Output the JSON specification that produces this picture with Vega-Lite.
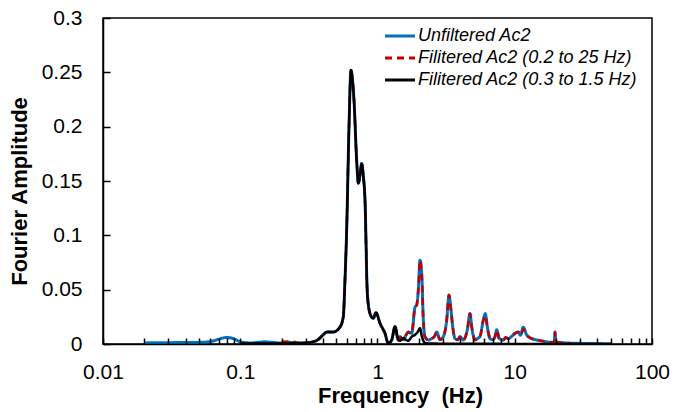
{
  "$schema": "https://vega.github.io/schema/vega-lite/v6.json",
  "autosize": {"type": "none"},
  "width": 549,
  "height": 326,
  "padding": {"left": 103, "top": 18, "right": 35, "bottom": 68},
  "config": {
    "view": {"stroke": "#000", "strokeWidth": 1.5},
    "font": "Liberation Sans"
  },
  "data": {
    "values": [
      {"series": "Unfiltered Ac2", "freq": 0.0202, "amp": 0.001},
      {"series": "Unfiltered Ac2", "freq": 0.026, "amp": 0.0012},
      {"series": "Unfiltered Ac2", "freq": 0.0364, "amp": 0.0013},
      {"series": "Unfiltered Ac2", "freq": 0.0509, "amp": 0.0015},
      {"series": "Unfiltered Ac2", "freq": 0.062, "amp": 0.0025},
      {"series": "Unfiltered Ac2", "freq": 0.07, "amp": 0.0045},
      {"series": "Unfiltered Ac2", "freq": 0.0797, "amp": 0.006},
      {"series": "Unfiltered Ac2", "freq": 0.09, "amp": 0.0048},
      {"series": "Unfiltered Ac2", "freq": 0.1, "amp": 0.002},
      {"series": "Unfiltered Ac2", "freq": 0.118, "amp": 0.001},
      {"series": "Unfiltered Ac2", "freq": 0.135, "amp": 0.0015},
      {"series": "Unfiltered Ac2", "freq": 0.151, "amp": 0.002},
      {"series": "Unfiltered Ac2", "freq": 0.17, "amp": 0.0015},
      {"series": "Unfiltered Ac2", "freq": 0.195, "amp": 0.001},
      {"series": "Unfiltered Ac2", "freq": 0.23, "amp": 0.0015},
      {"series": "Unfiltered Ac2", "freq": 0.272, "amp": 0.001},
      {"series": "Unfiltered Ac2", "freq": 0.306, "amp": 0.0012},
      {"series": "Unfiltered Ac2", "freq": 0.339, "amp": 0.002},
      {"series": "Unfiltered Ac2", "freq": 0.369, "amp": 0.004},
      {"series": "Unfiltered Ac2", "freq": 0.401, "amp": 0.0083},
      {"series": "Unfiltered Ac2", "freq": 0.429, "amp": 0.011},
      {"series": "Unfiltered Ac2", "freq": 0.474, "amp": 0.011},
      {"series": "Unfiltered Ac2", "freq": 0.533, "amp": 0.0156},
      {"series": "Unfiltered Ac2", "freq": 0.563, "amp": 0.025},
      {"series": "Unfiltered Ac2", "freq": 0.58, "amp": 0.06},
      {"series": "Unfiltered Ac2", "freq": 0.597, "amp": 0.108},
      {"series": "Unfiltered Ac2", "freq": 0.62, "amp": 0.2},
      {"series": "Unfiltered Ac2", "freq": 0.641, "amp": 0.252},
      {"series": "Unfiltered Ac2", "freq": 0.655, "amp": 0.245},
      {"series": "Unfiltered Ac2", "freq": 0.674, "amp": 0.2245},
      {"series": "Unfiltered Ac2", "freq": 0.705, "amp": 0.169},
      {"series": "Unfiltered Ac2", "freq": 0.725, "amp": 0.148},
      {"series": "Unfiltered Ac2", "freq": 0.745, "amp": 0.155},
      {"series": "Unfiltered Ac2", "freq": 0.767, "amp": 0.166},
      {"series": "Unfiltered Ac2", "freq": 0.788, "amp": 0.155},
      {"series": "Unfiltered Ac2", "freq": 0.811, "amp": 0.132},
      {"series": "Unfiltered Ac2", "freq": 0.843, "amp": 0.047},
      {"series": "Unfiltered Ac2", "freq": 0.882, "amp": 0.028},
      {"series": "Unfiltered Ac2", "freq": 0.932, "amp": 0.0236},
      {"series": "Unfiltered Ac2", "freq": 0.975, "amp": 0.0288},
      {"series": "Unfiltered Ac2", "freq": 1.043, "amp": 0.019},
      {"series": "Unfiltered Ac2", "freq": 1.134, "amp": 0.0098},
      {"series": "Unfiltered Ac2", "freq": 1.198, "amp": 0.0006},
      {"series": "Unfiltered Ac2", "freq": 1.269, "amp": 0.0037},
      {"series": "Unfiltered Ac2", "freq": 1.341, "amp": 0.016},
      {"series": "Unfiltered Ac2", "freq": 1.418, "amp": 0.0037},
      {"series": "Unfiltered Ac2", "freq": 1.458, "amp": 0.0067},
      {"series": "Unfiltered Ac2", "freq": 1.542, "amp": 0.004},
      {"series": "Unfiltered Ac2", "freq": 1.61, "amp": 0.008},
      {"series": "Unfiltered Ac2", "freq": 1.677, "amp": 0.011},
      {"series": "Unfiltered Ac2", "freq": 1.775, "amp": 0.0098},
      {"series": "Unfiltered Ac2", "freq": 1.877, "amp": 0.034},
      {"series": "Unfiltered Ac2", "freq": 1.931, "amp": 0.036},
      {"series": "Unfiltered Ac2", "freq": 1.984, "amp": 0.05},
      {"series": "Unfiltered Ac2", "freq": 2.04, "amp": 0.077},
      {"series": "Unfiltered Ac2", "freq": 2.099, "amp": 0.065},
      {"series": "Unfiltered Ac2", "freq": 2.157, "amp": 0.022},
      {"series": "Unfiltered Ac2", "freq": 2.219, "amp": 0.0067},
      {"series": "Unfiltered Ac2", "freq": 2.345, "amp": 0.0037},
      {"series": "Unfiltered Ac2", "freq": 2.483, "amp": 0.005},
      {"series": "Unfiltered Ac2", "freq": 2.6, "amp": 0.007},
      {"series": "Unfiltered Ac2", "freq": 2.7, "amp": 0.011},
      {"series": "Unfiltered Ac2", "freq": 2.854, "amp": 0.004},
      {"series": "Unfiltered Ac2", "freq": 3.017, "amp": 0.0067},
      {"series": "Unfiltered Ac2", "freq": 3.193, "amp": 0.022},
      {"series": "Unfiltered Ac2", "freq": 3.318, "amp": 0.045},
      {"series": "Unfiltered Ac2", "freq": 3.414, "amp": 0.034},
      {"series": "Unfiltered Ac2", "freq": 3.531, "amp": 0.016},
      {"series": "Unfiltered Ac2", "freq": 3.67, "amp": 0.005},
      {"series": "Unfiltered Ac2", "freq": 3.85, "amp": 0.004},
      {"series": "Unfiltered Ac2", "freq": 3.991, "amp": 0.0067},
      {"series": "Unfiltered Ac2", "freq": 4.218, "amp": 0.0037},
      {"series": "Unfiltered Ac2", "freq": 4.511, "amp": 0.013},
      {"series": "Unfiltered Ac2", "freq": 4.721, "amp": 0.028},
      {"series": "Unfiltered Ac2", "freq": 4.857, "amp": 0.016},
      {"series": "Unfiltered Ac2", "freq": 5.132, "amp": 0.0037},
      {"series": "Unfiltered Ac2", "freq": 5.35, "amp": 0.005},
      {"series": "Unfiltered Ac2", "freq": 5.582, "amp": 0.007},
      {"series": "Unfiltered Ac2", "freq": 5.901, "amp": 0.022},
      {"series": "Unfiltered Ac2", "freq": 6.101, "amp": 0.028},
      {"series": "Unfiltered Ac2", "freq": 6.31, "amp": 0.016},
      {"series": "Unfiltered Ac2", "freq": 6.602, "amp": 0.005},
      {"series": "Unfiltered Ac2", "freq": 6.9, "amp": 0.004},
      {"series": "Unfiltered Ac2", "freq": 7.18, "amp": 0.0067},
      {"series": "Unfiltered Ac2", "freq": 7.388, "amp": 0.013},
      {"series": "Unfiltered Ac2", "freq": 7.717, "amp": 0.005},
      {"series": "Unfiltered Ac2", "freq": 8.254, "amp": 0.0037},
      {"series": "Unfiltered Ac2", "freq": 8.6, "amp": 0.006},
      {"series": "Unfiltered Ac2", "freq": 8.974, "amp": 0.005},
      {"series": "Unfiltered Ac2", "freq": 9.5, "amp": 0.007},
      {"series": "Unfiltered Ac2", "freq": 10.04, "amp": 0.0098},
      {"series": "Unfiltered Ac2", "freq": 10.61, "amp": 0.011},
      {"series": "Unfiltered Ac2", "freq": 11.0, "amp": 0.008},
      {"series": "Unfiltered Ac2", "freq": 11.54, "amp": 0.0155},
      {"series": "Unfiltered Ac2", "freq": 12.22, "amp": 0.0083},
      {"series": "Unfiltered Ac2", "freq": 12.8, "amp": 0.006},
      {"series": "Unfiltered Ac2", "freq": 13.29, "amp": 0.005},
      {"series": "Unfiltered Ac2", "freq": 14.45, "amp": 0.0037},
      {"series": "Unfiltered Ac2", "freq": 15.5, "amp": 0.003},
      {"series": "Unfiltered Ac2", "freq": 17.09, "amp": 0.002},
      {"series": "Unfiltered Ac2", "freq": 18.5, "amp": 0.0015},
      {"series": "Unfiltered Ac2", "freq": 19.4, "amp": 0.002},
      {"series": "Unfiltered Ac2", "freq": 19.65, "amp": 0.011},
      {"series": "Unfiltered Ac2", "freq": 19.9, "amp": 0.002},
      {"series": "Unfiltered Ac2", "freq": 21, "amp": 0.0015},
      {"series": "Unfiltered Ac2", "freq": 23.89, "amp": 0.001},
      {"series": "Unfiltered Ac2", "freq": 26, "amp": 0.0007},
      {"series": "Unfiltered Ac2", "freq": 29.88, "amp": 0.0006},
      {"series": "Unfiltered Ac2", "freq": 35, "amp": 0.0004},
      {"series": "Unfiltered Ac2", "freq": 40, "amp": 0.0005},
      {"series": "Unfiltered Ac2", "freq": 45, "amp": 0.0003},
      {"series": "Unfiltered Ac2", "freq": 51, "amp": 0.0002},

      {"series": "Filitered Ac2 (0.2 to 25 Hz)", "freq": 0.2, "amp": 0.002},
      {"series": "Filitered Ac2 (0.2 to 25 Hz)", "freq": 0.23, "amp": 0.0022},
      {"series": "Filitered Ac2 (0.2 to 25 Hz)", "freq": 0.26, "amp": 0.0015},
      {"series": "Filitered Ac2 (0.2 to 25 Hz)", "freq": 0.272, "amp": 0.001},
      {"series": "Filitered Ac2 (0.2 to 25 Hz)", "freq": 0.306, "amp": 0.0012},
      {"series": "Filitered Ac2 (0.2 to 25 Hz)", "freq": 0.339, "amp": 0.002},
      {"series": "Filitered Ac2 (0.2 to 25 Hz)", "freq": 0.369, "amp": 0.004},
      {"series": "Filitered Ac2 (0.2 to 25 Hz)", "freq": 0.401, "amp": 0.0083},
      {"series": "Filitered Ac2 (0.2 to 25 Hz)", "freq": 0.429, "amp": 0.011},
      {"series": "Filitered Ac2 (0.2 to 25 Hz)", "freq": 0.474, "amp": 0.011},
      {"series": "Filitered Ac2 (0.2 to 25 Hz)", "freq": 0.533, "amp": 0.0156},
      {"series": "Filitered Ac2 (0.2 to 25 Hz)", "freq": 0.563, "amp": 0.025},
      {"series": "Filitered Ac2 (0.2 to 25 Hz)", "freq": 0.58, "amp": 0.06},
      {"series": "Filitered Ac2 (0.2 to 25 Hz)", "freq": 0.597, "amp": 0.108},
      {"series": "Filitered Ac2 (0.2 to 25 Hz)", "freq": 0.62, "amp": 0.2},
      {"series": "Filitered Ac2 (0.2 to 25 Hz)", "freq": 0.641, "amp": 0.252},
      {"series": "Filitered Ac2 (0.2 to 25 Hz)", "freq": 0.655, "amp": 0.245},
      {"series": "Filitered Ac2 (0.2 to 25 Hz)", "freq": 0.674, "amp": 0.2245},
      {"series": "Filitered Ac2 (0.2 to 25 Hz)", "freq": 0.705, "amp": 0.169},
      {"series": "Filitered Ac2 (0.2 to 25 Hz)", "freq": 0.725, "amp": 0.148},
      {"series": "Filitered Ac2 (0.2 to 25 Hz)", "freq": 0.745, "amp": 0.155},
      {"series": "Filitered Ac2 (0.2 to 25 Hz)", "freq": 0.767, "amp": 0.166},
      {"series": "Filitered Ac2 (0.2 to 25 Hz)", "freq": 0.788, "amp": 0.155},
      {"series": "Filitered Ac2 (0.2 to 25 Hz)", "freq": 0.811, "amp": 0.132},
      {"series": "Filitered Ac2 (0.2 to 25 Hz)", "freq": 0.843, "amp": 0.047},
      {"series": "Filitered Ac2 (0.2 to 25 Hz)", "freq": 0.882, "amp": 0.028},
      {"series": "Filitered Ac2 (0.2 to 25 Hz)", "freq": 0.932, "amp": 0.0236},
      {"series": "Filitered Ac2 (0.2 to 25 Hz)", "freq": 0.975, "amp": 0.0288},
      {"series": "Filitered Ac2 (0.2 to 25 Hz)", "freq": 1.043, "amp": 0.019},
      {"series": "Filitered Ac2 (0.2 to 25 Hz)", "freq": 1.134, "amp": 0.0098},
      {"series": "Filitered Ac2 (0.2 to 25 Hz)", "freq": 1.198, "amp": 0.0006},
      {"series": "Filitered Ac2 (0.2 to 25 Hz)", "freq": 1.269, "amp": 0.0037},
      {"series": "Filitered Ac2 (0.2 to 25 Hz)", "freq": 1.341, "amp": 0.016},
      {"series": "Filitered Ac2 (0.2 to 25 Hz)", "freq": 1.418, "amp": 0.0037},
      {"series": "Filitered Ac2 (0.2 to 25 Hz)", "freq": 1.458, "amp": 0.0067},
      {"series": "Filitered Ac2 (0.2 to 25 Hz)", "freq": 1.542, "amp": 0.004},
      {"series": "Filitered Ac2 (0.2 to 25 Hz)", "freq": 1.61, "amp": 0.008},
      {"series": "Filitered Ac2 (0.2 to 25 Hz)", "freq": 1.677, "amp": 0.011},
      {"series": "Filitered Ac2 (0.2 to 25 Hz)", "freq": 1.775, "amp": 0.0098},
      {"series": "Filitered Ac2 (0.2 to 25 Hz)", "freq": 1.877, "amp": 0.034},
      {"series": "Filitered Ac2 (0.2 to 25 Hz)", "freq": 1.931, "amp": 0.036},
      {"series": "Filitered Ac2 (0.2 to 25 Hz)", "freq": 1.984, "amp": 0.05},
      {"series": "Filitered Ac2 (0.2 to 25 Hz)", "freq": 2.04, "amp": 0.077},
      {"series": "Filitered Ac2 (0.2 to 25 Hz)", "freq": 2.099, "amp": 0.065},
      {"series": "Filitered Ac2 (0.2 to 25 Hz)", "freq": 2.157, "amp": 0.022},
      {"series": "Filitered Ac2 (0.2 to 25 Hz)", "freq": 2.219, "amp": 0.0067},
      {"series": "Filitered Ac2 (0.2 to 25 Hz)", "freq": 2.345, "amp": 0.0037},
      {"series": "Filitered Ac2 (0.2 to 25 Hz)", "freq": 2.483, "amp": 0.005},
      {"series": "Filitered Ac2 (0.2 to 25 Hz)", "freq": 2.6, "amp": 0.007},
      {"series": "Filitered Ac2 (0.2 to 25 Hz)", "freq": 2.7, "amp": 0.011},
      {"series": "Filitered Ac2 (0.2 to 25 Hz)", "freq": 2.854, "amp": 0.004},
      {"series": "Filitered Ac2 (0.2 to 25 Hz)", "freq": 3.017, "amp": 0.0067},
      {"series": "Filitered Ac2 (0.2 to 25 Hz)", "freq": 3.193, "amp": 0.022},
      {"series": "Filitered Ac2 (0.2 to 25 Hz)", "freq": 3.318, "amp": 0.045},
      {"series": "Filitered Ac2 (0.2 to 25 Hz)", "freq": 3.414, "amp": 0.034},
      {"series": "Filitered Ac2 (0.2 to 25 Hz)", "freq": 3.531, "amp": 0.016},
      {"series": "Filitered Ac2 (0.2 to 25 Hz)", "freq": 3.67, "amp": 0.005},
      {"series": "Filitered Ac2 (0.2 to 25 Hz)", "freq": 3.85, "amp": 0.004},
      {"series": "Filitered Ac2 (0.2 to 25 Hz)", "freq": 3.991, "amp": 0.0067},
      {"series": "Filitered Ac2 (0.2 to 25 Hz)", "freq": 4.218, "amp": 0.0037},
      {"series": "Filitered Ac2 (0.2 to 25 Hz)", "freq": 4.511, "amp": 0.013},
      {"series": "Filitered Ac2 (0.2 to 25 Hz)", "freq": 4.721, "amp": 0.028},
      {"series": "Filitered Ac2 (0.2 to 25 Hz)", "freq": 4.857, "amp": 0.016},
      {"series": "Filitered Ac2 (0.2 to 25 Hz)", "freq": 5.132, "amp": 0.0037},
      {"series": "Filitered Ac2 (0.2 to 25 Hz)", "freq": 5.35, "amp": 0.005},
      {"series": "Filitered Ac2 (0.2 to 25 Hz)", "freq": 5.582, "amp": 0.007},
      {"series": "Filitered Ac2 (0.2 to 25 Hz)", "freq": 5.901, "amp": 0.022},
      {"series": "Filitered Ac2 (0.2 to 25 Hz)", "freq": 6.101, "amp": 0.026},
      {"series": "Filitered Ac2 (0.2 to 25 Hz)", "freq": 6.31, "amp": 0.016},
      {"series": "Filitered Ac2 (0.2 to 25 Hz)", "freq": 6.602, "amp": 0.005},
      {"series": "Filitered Ac2 (0.2 to 25 Hz)", "freq": 6.9, "amp": 0.004},
      {"series": "Filitered Ac2 (0.2 to 25 Hz)", "freq": 7.18, "amp": 0.0067},
      {"series": "Filitered Ac2 (0.2 to 25 Hz)", "freq": 7.388, "amp": 0.013},
      {"series": "Filitered Ac2 (0.2 to 25 Hz)", "freq": 7.717, "amp": 0.005},
      {"series": "Filitered Ac2 (0.2 to 25 Hz)", "freq": 8.254, "amp": 0.0037},
      {"series": "Filitered Ac2 (0.2 to 25 Hz)", "freq": 8.6, "amp": 0.006},
      {"series": "Filitered Ac2 (0.2 to 25 Hz)", "freq": 8.974, "amp": 0.005},
      {"series": "Filitered Ac2 (0.2 to 25 Hz)", "freq": 9.5, "amp": 0.007},
      {"series": "Filitered Ac2 (0.2 to 25 Hz)", "freq": 10.04, "amp": 0.0098},
      {"series": "Filitered Ac2 (0.2 to 25 Hz)", "freq": 10.61, "amp": 0.011},
      {"series": "Filitered Ac2 (0.2 to 25 Hz)", "freq": 11.0, "amp": 0.008},
      {"series": "Filitered Ac2 (0.2 to 25 Hz)", "freq": 11.54, "amp": 0.0135},
      {"series": "Filitered Ac2 (0.2 to 25 Hz)", "freq": 12.22, "amp": 0.0083},
      {"series": "Filitered Ac2 (0.2 to 25 Hz)", "freq": 12.8, "amp": 0.006},
      {"series": "Filitered Ac2 (0.2 to 25 Hz)", "freq": 13.29, "amp": 0.005},
      {"series": "Filitered Ac2 (0.2 to 25 Hz)", "freq": 14.45, "amp": 0.0037},
      {"series": "Filitered Ac2 (0.2 to 25 Hz)", "freq": 15.5, "amp": 0.003},
      {"series": "Filitered Ac2 (0.2 to 25 Hz)", "freq": 17.09, "amp": 0.002},
      {"series": "Filitered Ac2 (0.2 to 25 Hz)", "freq": 18.5, "amp": 0.0015},
      {"series": "Filitered Ac2 (0.2 to 25 Hz)", "freq": 19.4, "amp": 0.002},
      {"series": "Filitered Ac2 (0.2 to 25 Hz)", "freq": 19.65, "amp": 0.011},
      {"series": "Filitered Ac2 (0.2 to 25 Hz)", "freq": 19.9, "amp": 0.002},
      {"series": "Filitered Ac2 (0.2 to 25 Hz)", "freq": 21, "amp": 0.0015},
      {"series": "Filitered Ac2 (0.2 to 25 Hz)", "freq": 23.89, "amp": 0.001},
      {"series": "Filitered Ac2 (0.2 to 25 Hz)", "freq": 26, "amp": 0.0005},

      {"series": "Filitered Ac2 (0.3 to 1.5 Hz)", "freq": 0.1, "amp": 0.0005},
      {"series": "Filitered Ac2 (0.3 to 1.5 Hz)", "freq": 0.15, "amp": 0.0005},
      {"series": "Filitered Ac2 (0.3 to 1.5 Hz)", "freq": 0.2, "amp": 0.0005},
      {"series": "Filitered Ac2 (0.3 to 1.5 Hz)", "freq": 0.25, "amp": 0.0007},
      {"series": "Filitered Ac2 (0.3 to 1.5 Hz)", "freq": 0.272, "amp": 0.0008},
      {"series": "Filitered Ac2 (0.3 to 1.5 Hz)", "freq": 0.306, "amp": 0.0012},
      {"series": "Filitered Ac2 (0.3 to 1.5 Hz)", "freq": 0.339, "amp": 0.002},
      {"series": "Filitered Ac2 (0.3 to 1.5 Hz)", "freq": 0.369, "amp": 0.004},
      {"series": "Filitered Ac2 (0.3 to 1.5 Hz)", "freq": 0.401, "amp": 0.0083},
      {"series": "Filitered Ac2 (0.3 to 1.5 Hz)", "freq": 0.429, "amp": 0.011},
      {"series": "Filitered Ac2 (0.3 to 1.5 Hz)", "freq": 0.474, "amp": 0.011},
      {"series": "Filitered Ac2 (0.3 to 1.5 Hz)", "freq": 0.533, "amp": 0.0156},
      {"series": "Filitered Ac2 (0.3 to 1.5 Hz)", "freq": 0.563, "amp": 0.025},
      {"series": "Filitered Ac2 (0.3 to 1.5 Hz)", "freq": 0.58, "amp": 0.06},
      {"series": "Filitered Ac2 (0.3 to 1.5 Hz)", "freq": 0.597, "amp": 0.108},
      {"series": "Filitered Ac2 (0.3 to 1.5 Hz)", "freq": 0.62, "amp": 0.2},
      {"series": "Filitered Ac2 (0.3 to 1.5 Hz)", "freq": 0.641, "amp": 0.252},
      {"series": "Filitered Ac2 (0.3 to 1.5 Hz)", "freq": 0.655, "amp": 0.245},
      {"series": "Filitered Ac2 (0.3 to 1.5 Hz)", "freq": 0.674, "amp": 0.2245},
      {"series": "Filitered Ac2 (0.3 to 1.5 Hz)", "freq": 0.705, "amp": 0.169},
      {"series": "Filitered Ac2 (0.3 to 1.5 Hz)", "freq": 0.725, "amp": 0.148},
      {"series": "Filitered Ac2 (0.3 to 1.5 Hz)", "freq": 0.745, "amp": 0.155},
      {"series": "Filitered Ac2 (0.3 to 1.5 Hz)", "freq": 0.767, "amp": 0.166},
      {"series": "Filitered Ac2 (0.3 to 1.5 Hz)", "freq": 0.788, "amp": 0.155},
      {"series": "Filitered Ac2 (0.3 to 1.5 Hz)", "freq": 0.811, "amp": 0.132},
      {"series": "Filitered Ac2 (0.3 to 1.5 Hz)", "freq": 0.843, "amp": 0.047},
      {"series": "Filitered Ac2 (0.3 to 1.5 Hz)", "freq": 0.882, "amp": 0.028},
      {"series": "Filitered Ac2 (0.3 to 1.5 Hz)", "freq": 0.932, "amp": 0.0236},
      {"series": "Filitered Ac2 (0.3 to 1.5 Hz)", "freq": 0.975, "amp": 0.0288},
      {"series": "Filitered Ac2 (0.3 to 1.5 Hz)", "freq": 1.043, "amp": 0.019},
      {"series": "Filitered Ac2 (0.3 to 1.5 Hz)", "freq": 1.134, "amp": 0.0098},
      {"series": "Filitered Ac2 (0.3 to 1.5 Hz)", "freq": 1.198, "amp": 0.0006},
      {"series": "Filitered Ac2 (0.3 to 1.5 Hz)", "freq": 1.269, "amp": 0.0037},
      {"series": "Filitered Ac2 (0.3 to 1.5 Hz)", "freq": 1.341, "amp": 0.016},
      {"series": "Filitered Ac2 (0.3 to 1.5 Hz)", "freq": 1.418, "amp": 0.0037},
      {"series": "Filitered Ac2 (0.3 to 1.5 Hz)", "freq": 1.458, "amp": 0.003},
      {"series": "Filitered Ac2 (0.3 to 1.5 Hz)", "freq": 1.542, "amp": 0.0055},
      {"series": "Filitered Ac2 (0.3 to 1.5 Hz)", "freq": 1.6, "amp": 0.004},
      {"series": "Filitered Ac2 (0.3 to 1.5 Hz)", "freq": 1.677, "amp": 0.003},
      {"series": "Filitered Ac2 (0.3 to 1.5 Hz)", "freq": 1.775, "amp": 0.0067},
      {"series": "Filitered Ac2 (0.3 to 1.5 Hz)", "freq": 1.877, "amp": 0.0085},
      {"series": "Filitered Ac2 (0.3 to 1.5 Hz)", "freq": 1.95, "amp": 0.0105},
      {"series": "Filitered Ac2 (0.3 to 1.5 Hz)", "freq": 2.04, "amp": 0.0145},
      {"series": "Filitered Ac2 (0.3 to 1.5 Hz)", "freq": 2.1, "amp": 0.0075},
      {"series": "Filitered Ac2 (0.3 to 1.5 Hz)", "freq": 2.157, "amp": 0.003},
      {"series": "Filitered Ac2 (0.3 to 1.5 Hz)", "freq": 2.22, "amp": 0.001},
      {"series": "Filitered Ac2 (0.3 to 1.5 Hz)", "freq": 2.4, "amp": 0.0005},
      {"series": "Filitered Ac2 (0.3 to 1.5 Hz)", "freq": 3, "amp": 0.0003},
      {"series": "Filitered Ac2 (0.3 to 1.5 Hz)", "freq": 5, "amp": 0.0002},
      {"series": "Filitered Ac2 (0.3 to 1.5 Hz)", "freq": 10, "amp": 0.0001},
      {"series": "Filitered Ac2 (0.3 to 1.5 Hz)", "freq": 20, "amp": 0.0001},
      {"series": "Filitered Ac2 (0.3 to 1.5 Hz)", "freq": 51, "amp": 0}
    ]
  },
  "encoding": {
    "x": {
      "field": "freq", "type": "quantitative",
      "scale": {"type": "log", "domain": [0.01, 100]},
      "axis": {
        "values": [0.01, 0.02, 0.03, 0.04, 0.05, 0.06, 0.07, 0.08, 0.09, 0.1, 0.2, 0.3, 0.4, 0.5, 0.6, 0.7, 0.8, 0.9, 1, 2, 3, 4, 5, 6, 7, 8, 9, 10, 20, 30, 40, 50, 60, 70, 80, 90, 100],
        "labelExpr": "indexof([0.01, 0.1, 1, 10, 100], datum.value) >= 0 ? format(datum.value, '~g') : ''",
        "labelOverlap": false,
        "labelFlush": false,
        "grid": false,
        "zindex": 1,
        "ticks": true,
        "tickSize": -6,
        "tickColor": "#000",
        "tickWidth": 1.5,
        "tickOpacity": 1,
        "domainColor": "#000",
        "domainWidth": 1.5,
        "labelFont": "Liberation Sans",
        "labelFontSize": 21,
        "labelColor": "#000",
        "labelPadding": 23,
        "title": "Frequency\u00a0 (Hz)",
        "titleFont": "Liberation Sans",
        "titleFontSize": 22,
        "titleFontWeight": "bold",
        "titleColor": "#000",
        "titleX": 297,
        "titleY": 58.5,
        "titleBaseline": "alphabetic",
        "titleAlign": "center"
      }
    },
    "y": {
      "field": "amp", "type": "quantitative",
      "scale": {"domain": [0, 0.3], "nice": false, "zero": true},
      "axis": {
        "values": [0, 0.05, 0.1, 0.15, 0.2, 0.25, 0.3],
        "format": "~g",
        "grid": false,
        "zindex": 1,
        "ticks": true,
        "tickSize": -7,
        "tickColor": "#000",
        "tickWidth": 1.5,
        "tickOpacity": 1,
        "domainColor": "#000",
        "domainWidth": 1.5,
        "labelFont": "Liberation Sans",
        "labelFontSize": 21,
        "labelColor": "#000",
        "labelPadding": 28,
        "title": "Fourier Amplitude",
        "titleFont": "Liberation Sans",
        "titleFontSize": 22,
        "titleFontWeight": "bold",
        "titleColor": "#000",
        "titleAngle": 270,
        "titleX": -84,
        "titleY": 173,
        "titleBaseline": "middle",
        "titleAlign": "center"
      }
    },
    "color": {
      "field": "series", "type": "nominal",
      "scale": {
        "domain": ["Unfiltered Ac2", "Filitered Ac2 (0.2 to 25 Hz)", "Filitered Ac2 (0.3 to 1.5 Hz)"],
        "range": ["#0070C0", "#C00000", "#000000"]
      },
      "legend": {
        "title": null,
        "orient": "none",
        "legendX": 288,
        "legendY": 9,
        "symbolType": "M-2,0L2,0",
        "symbolSize": 225,
        "symbolStrokeWidth": 2.8,
        "labelFont": "Liberation Sans",
        "labelFontSize": 18,
        "labelFontStyle": "italic",
        "labelColor": "#000",
        "labelOffset": 9,
        "rowPadding": 4,
        "labelLimit": 400
      }
    },
    "strokeDash": {
      "field": "series", "type": "nominal",
      "scale": {
        "domain": ["Unfiltered Ac2", "Filitered Ac2 (0.2 to 25 Hz)", "Filitered Ac2 (0.3 to 1.5 Hz)"],
        "range": [[1, 0], [7, 5], [1, 0]]
      },
      "legend": {
        "title": null,
        "orient": "none",
        "legendX": 288,
        "legendY": 9,
        "symbolType": "M-2,0L2,0",
        "symbolSize": 225,
        "symbolStrokeWidth": 2.8,
        "labelFont": "Liberation Sans",
        "labelFontSize": 18,
        "labelFontStyle": "italic",
        "labelColor": "#000",
        "labelOffset": 9,
        "rowPadding": 4,
        "labelLimit": 400
      }
    }
  },
  "layer": [
    {
      "transform": [{"filter": {"field": "series", "equal": "Unfiltered Ac2"}}],
      "mark": {"type": "line", "strokeWidth": 3, "interpolate": "monotone", "clip": true}
    },
    {
      "transform": [{"filter": {"field": "series", "equal": "Filitered Ac2 (0.2 to 25 Hz)"}}],
      "mark": {"type": "line", "strokeWidth": 2.5, "interpolate": "monotone", "clip": true}
    },
    {
      "transform": [{"filter": {"field": "series", "equal": "Filitered Ac2 (0.3 to 1.5 Hz)"}}],
      "mark": {"type": "line", "strokeWidth": 2.5, "interpolate": "monotone", "clip": true}
    }
  ]
}
